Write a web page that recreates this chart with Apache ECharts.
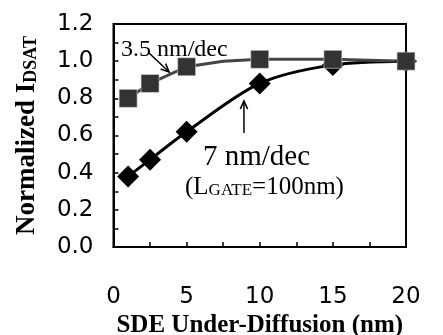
<!DOCTYPE html>
<html>
<head>
<meta charset="utf-8">
<script src="https://cdn.jsdelivr.net/npm/echarts@6/dist/echarts.min.js"></script>
<style>
html, body { margin: 0; padding: 0; background: #fff; }
#main { width: 443px; height: 335px; }
</style>
</head>
<body>
<div id="main"></div>
<script>
// SDE under-diffusion (nm)
var xSquare = [1, 2.5, 5, 7.5, 10, 15, 20];
var ySquare = [0.80, 0.88, 0.97, 1.00, 1.01, 1.01, 1.00];   // 3.5 nm/dec
var squareShown = [true, true, true, false, true, true, true];
var xDiamond = [1, 2.5, 5, 10, 15, 20];
var yDiamond = [0.38, 0.47, 0.62, 0.88, 0.98, 1.00];        // 7 nm/dec

var serif = '"Liberation Serif", "Times New Roman", serif';
var sans = '"DejaVu Sans", Arial, sans-serif';

var chart = echarts.init(document.getElementById('main'));

var squareData = xSquare.map(function (x, i) {
    var d = { value: [x, ySquare[i]] };
    if (!squareShown[i]) d.symbol = 'none';
    return d;
});
var diamondData = xDiamond.map(function (x, i) { return [x, yDiamond[i]]; });

option = {
    animation: false,
    grid: {
        left: 113.5, right: 37, top: 24, bottom: 88,
        outerBoundsMode: 'none',
        show: true, borderColor: '#000', borderWidth: 2
    },
    xAxis: {
        type: 'value', min: 0, max: 20, interval: 5,
        axisLine: { lineStyle: { color: '#000', width: 2 } },
        axisTick: { inside: true, length: 5, lineStyle: { color: '#000', width: 1.5 } },
        minorTick: { show: true, splitNumber: 2, length: 5, lineStyle: { color: '#000', width: 1.5 } },
        splitLine: { show: false },
        axisLabel: { margin: 39, fontFamily: sans, fontSize: 23, color: '#000' }
    },
    yAxis: {
        type: 'value', min: 0, max: 1.2, interval: 0.2,
        name: 'Normalized I{s|DSAT}',
        nameLocation: 'middle', nameGap: 73, nameRotate: 90,
        nameTextStyle: {
            fontFamily: serif, fontWeight: 'bold', fontSize: 27, color: '#000', verticalAlign: 'bottom',
            rich: { s: { fontFamily: serif, fontWeight: 'bold', fontSize: 18, color: '#000', verticalAlign: 'bottom' } }
        },
        axisLine: { lineStyle: { color: '#000', width: 2 } },
        axisTick: { inside: true, length: 5, lineStyle: { color: '#000', width: 1.5 } },
        minorTick: { show: true, splitNumber: 2, length: 5, lineStyle: { color: '#000', width: 1.5 } },
        splitLine: { show: false },
        axisLabel: {
            margin: 20, fontFamily: sans, fontSize: 23, color: '#000',
            formatter: function (v) { return v.toFixed(1); }
        }
    },
    series: [
        {
            type: 'line',
            data: diamondData,
            smooth: 0.3,
            symbol: 'diamond',
            symbolSize: 22,
            lineStyle: { color: '#000', width: 3 },
            itemStyle: { color: '#000' }
        },
        {
            type: 'line',
            data: squareData,
            symbol: 'rect',
            symbolSize: 18,
            lineStyle: { color: '#444', width: 3 },
            itemStyle: { color: '#333', borderColor: '#ddd', borderWidth: 0.6 }
        }
    ]
};
chart.setOption(option);

// annotations, placed in data coordinates
function px(p) { return chart.convertToPixel({ gridIndex: 0 }, p); }

function arrow(from, to) {
    var a = px(from), b = px(to);
    var dx = b[0] - a[0], dy = b[1] - a[1];
    var len = Math.sqrt(dx * dx + dy * dy);
    var ux = dx / len, uy = dy / len;
    var h = 9, ang = 0.42;
    function side(s) {
        var c = Math.cos(s * ang), sn = Math.sin(s * ang);
        var rx = ux * c - uy * sn, ry = ux * sn + uy * c;
        return [b[0] - h * rx, b[1] - h * ry];
    }
    return [
        { type: 'line', shape: { x1: a[0], y1: a[1], x2: b[0], y2: b[1] },
          style: { stroke: '#000', lineWidth: 1.5 } },
        { type: 'polyline', shape: { points: [side(1), b, side(-1)] },
          style: { stroke: '#000', fill: null, lineWidth: 1.5 } }
    ];
}

function label(pos, text, size, rich) {
    var p = px(pos);
    return {
        type: 'text', x: p[0], y: p[1],
        style: {
            text: text, fill: '#000', fontFamily: serif, fontSize: size,
            verticalAlign: 'middle', align: 'left', rich: rich
        }
    };
}

var graphics = []
    .concat(arrow([2.43, 1.044], [3.8, 0.942]))
    .concat(arrow([8.92, 0.614], [8.92, 0.786]));
graphics.push(label([0.51, 1.06], '3.5 nm/dec', 24));
graphics.push(label([6.12, 0.484], '7 nm/dec', 29));
graphics.push(label([4.89, 0.323], '{b|(L}{s|GATE}{b|=100nm)}', 25, {
    b: { fontFamily: serif, fontSize: 25, verticalAlign: 'bottom' },
    s: { fontFamily: serif, fontSize: 17, verticalAlign: 'bottom' }
}));

// x axis title, below the tick labels
var xTitlePos = px([10, -0.42]);
graphics.push({
    type: 'text', x: xTitlePos[0], y: xTitlePos[1],
    style: {
        text: 'SDE Under-Diffusion (nm)', fill: '#000', fontFamily: serif,
        fontWeight: 'bold', fontSize: 25, align: 'center', verticalAlign: 'middle'
    }
});

chart.setOption({ graphic: graphics });
</script>
</body>
</html>
